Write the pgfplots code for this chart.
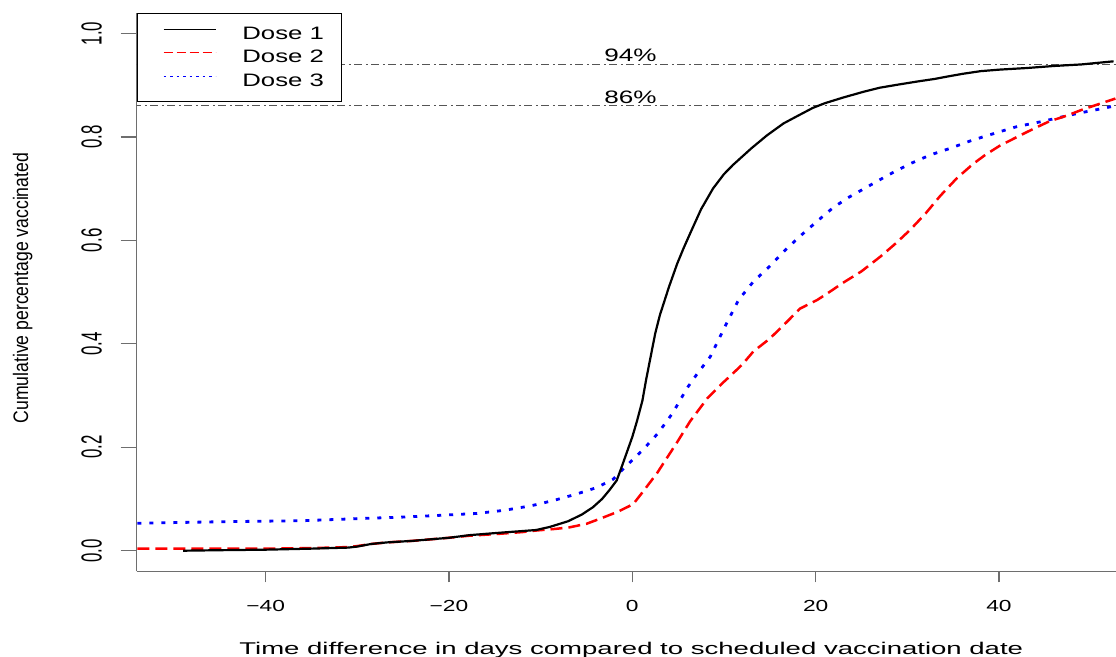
\documentclass[border=0pt]{standalone}
\usepackage{fontspec}
\setmainfont{Liberation Sans}
\usepackage{pgfplots}
\pgfplotsset{compat=1.18}
\newfontfamily\legfont{Liberation Sans}[FakeStretch=1.43]
\newfontfamily\xtickfont{Liberation Sans}[FakeStretch=1.42]
\newfontfamily\ytickfont{Liberation Sans}[FakeStretch=0.58]
\newfontfamily\ylabfont{Liberation Sans}[FakeStretch=0.84]
\newfontfamily\xlabfont{Liberation Sans}[FakeStretch=1.62]
\newfontfamily\pctfont{Liberation Sans}[FakeStretch=1.45]
\definecolor{axgray}{RGB}{110,110,110}
\definecolor{refgray}{RGB}{85,85,85}
\begin{document}
\begin{tikzpicture}
\path[use as bounding box] (0bp,0bp) rectangle (1116bp,657bp);
\begin{axis}[
  at={(136.7bp,85.6bp)}, anchor=south west,
  scale only axis, width=979.3bp, height=558.7bp,
  xmin=-54.07, xmax=52.77, ymin=-0.04, ymax=1.04,
  axis x line*=bottom, axis y line*=left,
  axis line style={axgray, line width=1.4bp},
  tick align=outside,
  major tick length=11bp,
  tick style={axgray, line width=1.4bp},
  ytick style={/pgfplots/major tick length=16bp},
  xtick={-40,-20,0,20,40},
  xticklabels={−40,−20,0,20,40},
  ytick={0,0.2,0.4,0.6,0.8,1.0},
  yticklabels={0.0,0.2,0.4,0.6,0.8,1.0},
  xticklabel style={font=\xtickfont\fontsize{16bp}{18bp}\selectfont, anchor=base, inner sep=0pt},
  yticklabel style={font=\ytickfont\fontsize{29bp}{32bp}\selectfont, rotate=90, anchor=base, inner sep=0pt},
  xticklabel shift=29.6bp,
  yticklabel shift=24bp,
  every axis y label/.style={at={(axis description cs:-0.111,0.507)}, anchor=base, rotate=90},
  every axis x label/.style={at={(axis description cs:0.505,-0.148)}, anchor=base},
  ylabel={\ylabfont\fontsize{21bp}{24bp}\selectfont Cumulative percentage vaccinated},
  xlabel={\xlabfont\fontsize{17bp}{20bp}\selectfont Time difference in days compared to scheduled vaccination date},
  legend style={at={(0,1)}, anchor=north west, draw=black, line width=0.8bp, fill=white,
    inner xsep=17bp, inner ysep=14bp, row sep=9.2bp,
    font=\legfont\fontsize{18bp}{20bp}\selectfont,
    nodes={inner sep=0pt}, cells={anchor=base west},
    /tikz/every odd column/.append style={column sep=26.3bp}},
  legend image code/.code={\path (0bp,0bp); \draw[#1] (9bp,9.8bp) -- (61bp,9.8bp);},
]
% reference lines
\addplot[forget plot, refgray, line width=1.1bp, dash pattern=on 8bp off 3.5bp on 2bp off 3.5bp] coordinates {(-60,0.94) (60,0.94)};
\addplot[forget plot, refgray, line width=1.1bp, dash pattern=on 8bp off 3.5bp on 2bp off 3.5bp] coordinates {(-60,0.86) (60,0.86)};
% Dose 3
\addplot[forget plot, blue, line width=2.8bp, dash pattern=on 4bp off 8bp] coordinates {
(-54,0.053) (-45,0.056) (-35.9,0.058) (-30,0.062) (-25,0.065) (-21.4,0.068) (-17,0.072) (-14,0.078) (-11,0.087) (-8.6,0.097) (-6,0.11) (-3.9,0.122) (-2.1,0.138) (-0.6,0.165) (1.1,0.194) (2.8,0.227) (4.4,0.266) (6,0.315) (7,0.34) (8.5,0.375) (10.1,0.433) (11.6,0.485) (13.2,0.52) (15,0.55) (16.5,0.578) (18.3,0.608) (20.5,0.642) (21.9,0.663) (23.5,0.682) (25.6,0.703) (28,0.727) (30.3,0.748) (32.5,0.765) (34.7,0.778) (37,0.793) (40.1,0.81) (42,0.82) (44.5,0.829) (46.5,0.837) (48.5,0.845) (50.5,0.852) (52.7,0.86)};
% Dose 2
\addplot[forget plot, red, line width=2.5bp, dash pattern=on 12bp off 6bp] coordinates {
(-54,0.004) (-45,0.004) (-40,0.004) (-35,0.005) (-31,0.007) (-30,0.009) (-28.5,0.013) (-26.8,0.016) (-24,0.019) (-20,0.025) (-17.8,0.029) (-15,0.032) (-12,0.036) (-10.5,0.039) (-8.5,0.042) (-6.9,0.045) (-5,0.052) (-3.2,0.064) (-1.5,0.076) (0.1,0.09) (1.2,0.115) (2.7,0.15) (3.8,0.18) (4.9,0.21) (6.3,0.25) (8.2,0.295) (9.9,0.325) (10.7,0.338) (12,0.36) (13.2,0.385) (15,0.41) (16.9,0.443) (18.3,0.468) (20.2,0.485) (21.5,0.5) (23,0.518) (25,0.54) (27.1,0.569) (28.8,0.595) (30.3,0.62) (32,0.652) (33.6,0.686) (35.4,0.72) (37.2,0.748) (38.5,0.765) (40.1,0.783) (42,0.80) (43.7,0.815) (45.5,0.83) (47.4,0.841) (49,0.852) (51,0.864) (52.7,0.874)};
% Dose 1
\addplot[forget plot, black, line width=2.2bp] coordinates {
(-49,0.000) (-45,0.001) (-40,0.002) (-35,0.004) (-31,0.006) (-30,0.008) (-28.5,0.013) (-26.8,0.016) (-24,0.019) (-20,0.025) (-17.8,0.030) (-15,0.034) (-12,0.038) (-10.5,0.040) (-9,0.046) (-7,0.057) (-5.5,0.07) (-4.3,0.084) (-3.3,0.100) (-2.5,0.117) (-1.7,0.136) (-1.2,0.16) (-0.6,0.19) (0,0.22) (0.5,0.25) (1.1,0.29) (1.5,0.33) (2.0,0.375) (2.5,0.42) (3.0,0.455) (4.0,0.51) (4.9,0.555) (5.6,0.585) (6.3,0.613) (7.5,0.66) (8.8,0.7) (10,0.728) (11,0.746) (13,0.778) (14.7,0.803) (16.5,0.826) (18.3,0.843) (19.7,0.856) (21,0.865) (23,0.876) (25.2,0.887) (27,0.895) (29,0.901) (31.1,0.907) (33,0.912) (34.5,0.917) (36.1,0.922) (38,0.927) (40.1,0.930) (43,0.933) (46,0.937) (49,0.940) (52.5,0.946)};
\addlegendimage{draw=black, line width=1bp}
\addlegendentry{Dose 1}
\addlegendimage{draw=red, line width=1bp, dash pattern=on 9bp off 4bp}
\addlegendentry{Dose 2}
\addlegendimage{draw=blue, line width=1bp, dash pattern=on 2.5bp off 4bp}
\addlegendentry{Dose 3}
\node[font=\pctfont\fontsize{18bp}{20bp}\selectfont, anchor=base, inner sep=0pt, yshift=2.5bp] at (axis cs:-0.2,0.94) {94\%};
\node[font=\pctfont\fontsize{18bp}{20bp}\selectfont, anchor=base, inner sep=0pt, yshift=2.5bp] at (axis cs:-0.2,0.86) {86\%};
\end{axis}
\end{tikzpicture}
\end{document}
